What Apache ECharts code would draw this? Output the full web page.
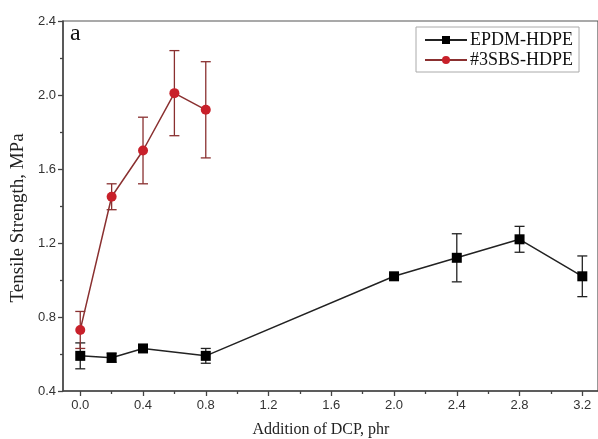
<!DOCTYPE html>
<html>
<head>
<meta charset="utf-8">
<script src="https://cdn.jsdelivr.net/npm/echarts@6/dist/echarts.min.js"></script>
<style>
  html, body { margin: 0; padding: 0; background: #fff; }
  #chart { width: 598px; height: 439px; }
</style>
</head>
<body>
<div id="chart"></div>
<script>
// DCP addition levels (phr) and tensile strength (MPa) with standard deviations
const epdmDcp = [0.0, 0.2, 0.4, 0.8, 2.0, 2.4, 2.8, 3.2];
const epdmStrength = [0.59, 0.58, 0.63, 0.59, 1.02, 1.12, 1.22, 1.02];
const epdmErr = [0.07, 0.025, 0.01, 0.04, 0.01, 0.13, 0.07, 0.11];

const sbsDcp = [0.0, 0.2, 0.4, 0.6, 0.8];
const sbsStrength = [0.73, 1.45, 1.70, 2.01, 1.92];
const sbsErr = [0.10, 0.07, 0.18, 0.23, 0.26];

const xMajorTicks = [0.0, 0.4, 0.8, 1.2, 1.6, 2.0, 2.4, 2.8, 3.2];
const xMinorTicks = [0.2, 0.6, 1.0, 1.4, 1.8, 2.2, 2.6, 3.0];

const serif = '"Liberation Serif", "Times New Roman", serif';
const sans = '"Liberation Sans", Arial, sans-serif';

const pairs = (xs, ys) => xs.map((x, i) => [x, ys[i]]);
const bars = (xs, ys, es) => xs.map((x, i) => [x, ys[i] - es[i], ys[i] + es[i]]);

function errorBar(color) {
  return function (params, api) {
    const x = api.value(0);
    const lo = api.coord([x, api.value(1)]);
    const hi = api.coord([x, api.value(2)]);
    const cap = 5;
    const style = { stroke: color, lineWidth: 1.3 };
    return {
      type: 'group',
      children: [
        { type: 'line', shape: { x1: lo[0], y1: lo[1], x2: hi[0], y2: hi[1] }, style },
        { type: 'line', shape: { x1: lo[0] - cap, y1: lo[1], x2: lo[0] + cap, y2: lo[1] }, style },
        { type: 'line', shape: { x1: hi[0] - cap, y1: hi[1], x2: hi[0] + cap, y2: hi[1] }, style }
      ]
    };
  };
}

const chart = echarts.init(document.getElementById('chart'), null, { renderer: 'canvas' });

chart.setOption({
  animation: false,
  backgroundColor: '#fff',
  grid: {
    left: 63, top: 21, right: -2, bottom: 48,
    show: true, borderColor: '#555', borderWidth: 1.2, backgroundColor: 'transparent'
  },
  xAxis: [
    {
      type: 'value', min: -0.11, max: 3.3,
      axisLine: { show: true, onZero: false, lineStyle: { color: '#444', width: 1.5 } },
      axisTick: { show: true, customValues: xMajorTicks, length: 5, lineStyle: { color: '#444', width: 1.3 } },
      axisLabel: {
        customValues: xMajorTicks, margin: 8,
        formatter: v => v.toFixed(1),
        fontFamily: sans, fontSize: 13, color: '#333'
      },
      splitLine: { show: false }
    },
    {
      // unlabeled intermediate ticks along the bottom axis
      type: 'value', min: -0.11, max: 3.3, position: 'bottom',
      axisLine: { show: false },
      axisTick: { show: true, customValues: xMinorTicks, length: 3, lineStyle: { color: '#444', width: 1.3 } },
      axisLabel: { show: false },
      splitLine: { show: false }
    }
  ],
  yAxis: {
    type: 'value', min: 0.4, max: 2.4, interval: 0.4,
    axisLine: { show: true, onZero: false, lineStyle: { color: '#444', width: 1.5 } },
    axisTick: { show: true, length: 5, lineStyle: { color: '#444', width: 1.3 } },
    minorTick: { show: true, splitNumber: 2, length: 3, lineStyle: { color: '#444', width: 1.3 } },
    axisLabel: {
      margin: 7, formatter: v => v.toFixed(1),
      fontFamily: sans, fontSize: 13, color: '#333'
    },
    splitLine: { show: false }
  },
  legend: {
    left: 416, top: 27, orient: 'vertical',
    borderColor: '#aaa', borderWidth: 1,
    padding: [4, 6, 3, 8], itemGap: 2,
    itemWidth: 42, itemHeight: 10,
    textStyle: { fontFamily: serif, fontSize: 18, color: '#111', padding: [0, 0, 0, -2] },
    data: ['EPDM-HDPE', '#3SBS-HDPE']
  },
  graphic: [
    { type: 'text', left: 70, top: 22, style: { text: 'a', font: '24px ' + serif, fill: '#111' } },
    {
      type: 'text', x: 321, y: 430,
      style: { text: 'Addition of DCP, phr', font: '16px ' + serif, fill: '#222', align: 'center', verticalAlign: 'middle' }
    },
    {
      type: 'text', x: 18, y: 218, rotation: Math.PI / 2,
      style: { text: 'Tensile Strength, MPa', font: '19px ' + serif, fill: '#222', align: 'center', verticalAlign: 'middle' }
    }
  ],
  series: [
    {
      name: 'EPDM-HDPE-err', type: 'custom', xAxisIndex: 0, z: 2,
      renderItem: errorBar('#222'),
      encode: { x: 0, y: [1, 2] },
      data: bars(epdmDcp, epdmStrength, epdmErr)
    },
    {
      name: '#3SBS-HDPE-err', type: 'custom', xAxisIndex: 0, z: 2,
      renderItem: errorBar('#8a3030'),
      encode: { x: 0, y: [1, 2] },
      data: bars(sbsDcp, sbsStrength, sbsErr)
    },
    {
      name: 'EPDM-HDPE', type: 'line', z: 3,
      data: pairs(epdmDcp, epdmStrength),
      symbol: 'rect', symbolSize: 10,
      lineStyle: { color: '#222', width: 1.5 },
      itemStyle: { color: '#000', borderWidth: 0 }
    },
    {
      name: '#3SBS-HDPE', type: 'line', z: 4,
      data: pairs(sbsDcp, sbsStrength),
      symbol: 'circle', symbolSize: 10,
      lineStyle: { color: '#8a3030', width: 1.5 },
      itemStyle: { color: '#c8202a', borderWidth: 0 }
    }
  ]
});
</script>
</body>
</html>
